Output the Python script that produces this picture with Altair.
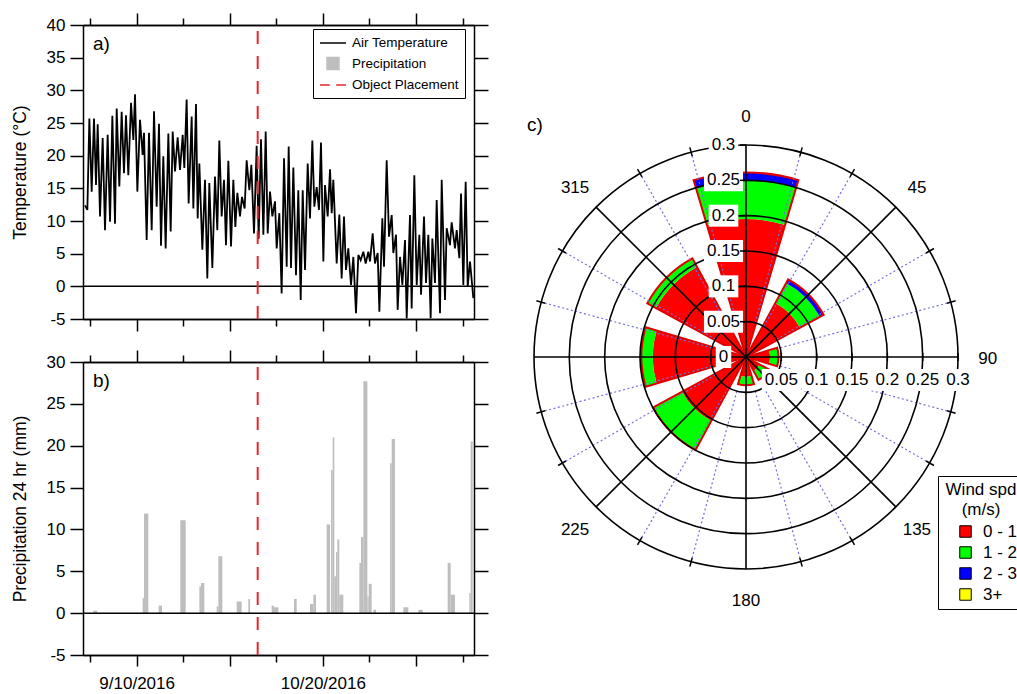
import math

import altair as alt
import pandas as pd

FONT = "Liberation Sans"

# ---------------------------------------------------------------------------
# Air temperature: successive daily highs and lows
# temp_day = days after 2016-08-31 00:00 UTC, temp_c = degrees Celsius
temp_day = [
    -1.10, -0.59, -0.16, 0.34, 0.84, 1.27, 1.63, 2.13, 2.70, 3.20,
    3.77, 4.28, 4.78, 5.35, 5.71, 6.28, 6.78, 7.28, 7.71, 8.21,
    8.79, 9.29, 9.65, 10.15, 10.72, 11.29, 11.58, 12.15, 12.65, 13.23,
    13.73, 14.30, 14.80, 15.23, 15.73, 16.23, 16.81, 17.31, 17.74, 18.24,
    18.81, 19.31, 19.89, 20.24, 20.74, 21.17, 21.82, 22.18, 22.75, 23.11,
    23.47, 24.11, 24.68, 25.18, 25.61, 26.26, 26.83, 27.33, 27.76, 28.26,
    28.77, 29.19, 29.70, 30.27, 30.77, 31.20, 31.63, 32.20, 32.63, 33.20,
    33.63, 34.21, 34.64, 35.21, 35.78, 36.21, 36.71, 37.22, 37.72, 38.15,
    38.65, 39.15, 39.72, 40.08, 40.65, 41.15, 41.66, 42.23, 42.66, 43.16,
    43.66, 44.23, 44.73, 45.24, 45.67, 46.17, 46.74, 47.24, 47.74, 48.17,
    48.67, 49.17, 49.60, 50.11, 50.46, 51.04, 51.54, 51.90, 52.25, 52.97,
    53.54, 54.04, 54.54, 54.97, 55.47, 56.05, 56.55, 57.12, 57.62, 58.12,
    58.70, 59.20, 59.77, 60.13, 60.70, 61.20, 61.78, 62.14, 62.78, 63.14,
    63.71, 64.21, 64.79, 65.14, 65.72, 66.07, 66.58, 67.08, 67.65, 68.01,
    68.72, 69.08, 69.65, 70.16, 70.73, 71.09, 71.73, 72.16, 72.66, 73.16,
    73.52, 74.09, 74.45, 75.17, 75.53, 76.24, 76.60, 77.31, 77.67, 78.39,
    78.75, 79.32, 79.68, 80.18, 80.68, 81.11, 81.61, 82.33,
]
temp_c = [
    12.4, 11.7, 25.7, 14.5, 25.7, 15.5, 24.8, 10.7, 22.7, 8.6,
    23.2, 9.9, 26.1, 9.6, 27.2, 15.3, 26.7, 17.3, 26.2, 17.0,
    28.1, 22.4, 29.4, 14.5, 25.5, 20.1, 23.5, 7.1, 23.5, 8.6,
    26.8, 12.2, 24.9, 6.2, 19.9, 5.8, 23.4, 8.4, 23.7, 17.6,
    22.8, 17.8, 23.2, 18.1, 28.6, 12.7, 26.0, 11.9, 27.9, 10.4,
    18.8, 5.6, 16.3, 1.2, 15.8, 2.8, 16.8, 8.6, 22.3, 10.7,
    16.3, 6.3, 19.2, 6.1, 16.3, 9.1, 14.3, 10.7, 13.7, 11.9,
    19.3, 14.7, 18.6, 8.1, 21.5, 7.3, 22.5, 7.9, 23.7, 8.1,
    14.5, 10.7, 13.0, 5.8, 11.2, -1.1, 19.6, 3.0, 21.4, 2.8,
    18.2, 1.7, 14.7, -2.1, 14.7, 2.5, 18.8, 10.4, 22.3, 12.2,
    15.2, 11.7, 22.0, 3.8, 15.5, 10.7, 17.9, 11.2, 16.3, 3.5,
    11.0, 1.2, 10.7, 2.5, 5.8, 0.2, 4.5, -4.1, 4.8, 4.0,
    5.3, 3.5, 5.3, 3.8, 8.1, 3.5, 5.1, -3.9, 10.4, 3.0,
    19.3, 7.6, 10.9, 5.1, 7.9, -3.6, 4.5, 0.2, 7.1, -4.9,
    10.9, -3.4, 17.0, 0.2, 7.9, -1.3, 10.7, 0.5, 7.9, -4.9,
    7.3, 0.5, 13.2, -4.1, 16.3, -2.1, 8.9, 6.3, 9.8, 5.8,
    8.6, 4.3, 14.2, 0.2, 16.0, -0.1, 3.8, -1.8,
]

# 24 hr precipitation: interval start / end (days after 2016-08-31 00:00 UTC)
# and depth in mm
precip_start = [
    0.70, 11.29, 11.58, 14.73, 19.38, 23.47, 23.83, 27.19, 27.55, 31.49,
    33.99, 39.00, 39.51, 43.80, 47.24, 47.96, 50.82, 51.75, 52.11, 52.47,
    52.83, 53.11, 53.54, 57.84, 58.19, 58.70, 59.56, 59.85, 60.85, 64.43,
    64.79, 67.29, 70.51, 76.81, 77.46, 81.47, 81.76,
]
precip_end = [
    1.55, 11.58, 12.51, 15.45, 20.53, 23.83, 24.54, 27.55, 28.41, 32.56,
    34.35, 39.51, 40.44, 44.38, 47.96, 48.53, 51.54, 52.11, 52.47, 52.83,
    53.11, 53.54, 54.40, 58.19, 58.70, 59.56, 59.85, 60.49, 61.42, 64.79,
    65.50, 68.37, 71.44, 77.46, 78.39, 81.76, 82.19,
]
precip_mm = [
    0.3, 1.8, 11.9, 0.9, 11.1, 3.2, 3.6, 0.8, 6.8, 1.4,
    1.7, 0.9, 0.7, 1.7, 1.1, 2.2, 10.6, 17.1, 21.0, 4.4,
    7.3, 8.8, 2.2, 6.0, 9.1, 27.7, 2.0, 3.5, 0.4, 17.9,
    20.8, 0.7, 0.4, 6.0, 2.2, 2.4, 20.5,
]

# Date the object was placed (month, day of 2016)
placement_month, placement_day = 10, 6

series_names = ["Air Temperature", "Precipitation", "Object Placement"]

# Wind rose: fraction of observations per direction (deg) and speed class
wind_dir = [0, 45, 90, 135, 180, 225, 270, 315]
speed_classes = ["0 - 1", "1 - 2", "2 - 3", "3+"]
speed_colors = ["#ff0000", "#00ff00", "#0000ff", "#ffff00"]
freq_0_1 = [0.195, 0.087, 0.034, 0.022, 0.028, 0.103, 0.132, 0.145]
freq_1_2 = [0.055, 0.032, 0.012, 0.015, 0.012, 0.047, 0.016, 0.014]
freq_2_3 = [0.011, 0.006, 0.0, 0.0, 0.0, 0.0, 0.0, 0.0]
freq_3_up = [0.0, 0.0, 0.0, 0.0, 0.0, 0.0, 0.0, 0.0]

rose_rings = [0.05, 0.1, 0.15, 0.2, 0.25, 0.3]
rose_ring_text = ["0.05", "0.1", "0.15", "0.2", "0.25", "0.3"]
compass_labels = [0, 45, 90, 135, 180, 225, 315]

# ---------------------------------------------------------------------------
# Page layout (pixels)
W, H = 1017, 694
X_LEFT, X_RIGHT = 83, 474
A_TOP, A_BOTTOM = 25, 319
B_TOP, B_BOTTOM = 362, 655
CX, CY, CR = 746, 357, 212          # wind rose centre and outer radius
R_MAX = 0.3
PX = R_MAX / CR                     # rose data units per pixel
SECTOR_HALF = 16.5                  # half width of each direction sector (deg)

BASE = pd.Timestamp("2016-08-31")
ONE = alt.Data(values=[{}])
EMPTY = alt.Data(values=[])


def stamp(day):
    return (BASE + pd.Timedelta(days=day)).strftime("%Y-%m-%dT%H:%M:%SZ")


def utc(m, d, h=0, mi=0):
    return alt.DateTime(year=2016, month=m, date=d, hours=h, minutes=mi, utc=True)


t_domain = [utc(8, 29, 11, 24), utc(11, 21, 11, 17)]
major_ticks = [utc(9, 10), utc(9, 30), utc(10, 20), utc(11, 9)]
minor_ticks = [utc(8, 31), utc(9, 20), utc(10, 10), utc(10, 30), utc(11, 19)]


def time_scale():
    return alt.Scale(type="utc", domain=t_domain, range=[X_LEFT, X_RIGHT])


AX = dict(domainColor="black", domainWidth=1.5, tickColor="black", tickWidth=1.5,
          grid=False, title=None, labelFont=FONT, labelFontSize=17, labelColor="black")


def x_axis(orient, values, size, offset, labels=False):
    kw = dict(AX, orient=orient, values=values, tickSize=size, offset=offset, labels=labels)
    if labels:
        kw.update(format="%-m/%-d/%Y", labelPadding=9, labelOverlap=False,
                  labelFlush=False, labelBound=False,
                  labelExpr="indexof(['9/10/2016', '10/20/2016'], datum.label) >= 0 ? datum.label : ''")
    return alt.Axis(**kw)


def y_axis(orient, values, offset, title=None, labels=True):
    kw = dict(AX, orient=orient, values=values, offset=offset, labels=labels,
              tickSize=13 if orient == "left" else 14)
    if labels:
        kw.update(labelPadding=5, labelExpr="'' + datum.value")
    if title:
        kw.update(title=title, titleFont=FONT, titleFontSize=17.5, titleFontWeight="normal",
                  titlePadding=17, titleColor="black")
    return alt.Axis(**kw)


def time_panel(main, y_scale_fn, y_values, top, bottom, label):
    """Frame axes, zero line, placement line and panel letter for one time panel."""
    layers = [main]
    layers.append(alt.Chart(EMPTY).mark_point().encode(
        x=alt.X("t:T", scale=time_scale(), axis=x_axis("bottom", minor_ticks, 7, bottom - H)),
        y=alt.Y("v:Q", scale=y_scale_fn(), axis=y_axis("right", y_values, X_RIGHT - W, labels=False)),
    ))
    layers.append(alt.Chart(EMPTY).mark_point().encode(
        x=alt.X("t:T", scale=time_scale(), axis=x_axis("top", major_ticks, 12, -top)),
        y=alt.Y("v:Q", scale=y_scale_fn(), axis=None),
    ))
    layers.append(alt.Chart(EMPTY).mark_point().encode(
        x=alt.X("t:T", scale=time_scale(), axis=x_axis("top", minor_ticks, 7, -top)),
        y=alt.Y("v:Q", scale=y_scale_fn(), axis=None),
    ))
    layers.append(alt.Chart(ONE).mark_rule(color="black", strokeWidth=1.5).encode(
        x=alt.XDatum(t_domain[0], type="temporal", scale=time_scale(), axis=None),
        x2=alt.X2Datum(t_domain[1]),
        y=alt.YDatum(0, type="quantitative", scale=y_scale_fn(), axis=None),
    ))
    layers.append(alt.Chart(ONE).mark_rule(color="#e8262d", strokeWidth=2, strokeDash=[13, 12]).encode(
        x=alt.XDatum(utc(placement_month, placement_day), type="temporal", scale=time_scale(), axis=None),
        y=alt.YDatum(y_values[0], type="quantitative", scale=y_scale_fn(), axis=None),
        y2=alt.Y2Datum(y_values[-1]),
    ))
    layers.append(alt.Chart(ONE).mark_text(
        text=label, font=FONT, fontSize=19, align="left", baseline="middle", color="black",
        x=X_LEFT + 10, y=top + 19))
    return layers


# ---------------------------------------------------------------------------
# a) air temperature
temp_df = pd.DataFrame({"t": [stamp(d) for d in temp_day], "temp": temp_c})
temp_values = list(range(-5, 41, 5))


def temp_scale():
    return alt.Scale(domain=[-5, 40], range=[A_BOTTOM, A_TOP], nice=False, zero=False)


temp_line = alt.Chart(temp_df).mark_line(color="black", strokeWidth=1.8).encode(
    x=alt.X("t:T", scale=time_scale(), axis=x_axis("bottom", major_ticks, 12, A_BOTTOM - H)),
    y=alt.Y("temp:Q", scale=temp_scale(),
            axis=y_axis("left", temp_values, -X_LEFT, title="Temperature (°C)")),
)
panel_a = time_panel(temp_line, temp_scale, temp_values, A_TOP, A_BOTTOM, "a)")

# Legend symbols live in a 14 px cell; the line samples reach 26 px wide.
legend_a = alt.Legend(
    title=None, orient="none", legendX=313, legendY=29, direction="vertical",
    padding=6, strokeColor="black", labelFont=FONT, labelFontSize=13.5, labelColor="black",
    labelOffset=11, symbolOffset=6, rowPadding=4.5, symbolSize=196, symbolStrokeWidth=1.5,
    symbolOpacity=1)
series_legend = alt.Chart(EMPTY).mark_point(strokeWidth=1.5, opacity=1).encode(
    shape=alt.Shape("s:N", legend=legend_a, scale=alt.Scale(
        domain=series_names,
        range=["M-1.86,0H1.86", "M-0.85,-0.85H0.85V0.85H-0.85Z",
               "M-1.86,0H-0.46M0.46,0H1.86"])),
    stroke=alt.Stroke("s:N", legend=legend_a, scale=alt.Scale(
        domain=series_names, range=["black", "#bebebe", "#e8262d"])),
    fill=alt.Fill("s:N", legend=legend_a, scale=alt.Scale(
        domain=series_names, range=["transparent", "#bebebe", "transparent"])),
)

# ---------------------------------------------------------------------------
# b) 24 hr precipitation
precip_df = pd.DataFrame({
    "t0": [stamp(d) for d in precip_start],
    "t1": [stamp(d) for d in precip_end],
    "mm": precip_mm,
})
precip_values = list(range(-5, 31, 5))


def precip_scale():
    return alt.Scale(domain=[-5, 30], range=[B_BOTTOM, B_TOP], nice=False, zero=False)


precip_bars = alt.Chart(precip_df).mark_rect(color="#bebebe").encode(
    x=alt.X("t0:T", scale=time_scale(),
            axis=x_axis("bottom", major_ticks, 11, B_BOTTOM - H, labels=True)),
    x2="t1:T",
    y=alt.Y("mm:Q", scale=precip_scale(),
            axis=y_axis("left", precip_values, -X_LEFT, title="Precipitation 24 hr (mm)")),
    y2=alt.Y2Datum(0),
)
panel_b = time_panel(precip_bars, precip_scale, precip_values, B_TOP, B_BOTTOM, "b)")

# ---------------------------------------------------------------------------
# c) wind rose


def theta_scale():
    return alt.Scale(domain=[0, 360], range=[0, 2 * math.pi])


def radius_scale():
    return alt.Scale(type="linear", domain=[0, R_MAX], range=[0, CR], zero=True, nice=False)


def xc_scale():
    return alt.Scale(domain=[-R_MAX, R_MAX], range=[CX - CR, CX + CR], nice=False, zero=False)


def yc_scale():
    return alt.Scale(domain=[-R_MAX, R_MAX], range=[CY + CR, CY - CR], nice=False, zero=False)


def centre():
    return dict(x=alt.XDatum(0, type="quantitative", scale=xc_scale(), axis=None),
                y=alt.YDatum(0, type="quantitative", scale=yc_scale(), axis=None))


def xy(field_x, field_y):
    return dict(x=alt.X(f"{field_x}:Q", scale=xc_scale(), axis=None),
                y=alt.Y(f"{field_y}:Q", scale=yc_scale(), axis=None))


seg_rows, outline_rows = [], []
for i, d in enumerate(wind_dir):
    r = 0.0
    for cls, freq in zip(speed_classes, [freq_0_1, freq_1_2, freq_2_3, freq_3_up]):
        if freq[i] > 0:
            seg_rows.append(dict(a0=d - SECTOR_HALF, a1=d + SECTOR_HALF, r0=r, r1=r + freq[i], cls=cls))
        r += freq[i]
    outline_rows.append(dict(a0=d - SECTOR_HALF, a1=d + SECTOR_HALF, r1=r))
seg_df = pd.DataFrame(seg_rows)
outline_df = pd.DataFrame(outline_rows)

segments = alt.Chart(seg_df).mark_arc().encode(
    theta=alt.Theta("a0:Q", scale=theta_scale(), stack=None),
    theta2="a1:Q",
    radius=alt.Radius("r1:Q", scale=radius_scale(), stack=None),
    radius2="r0:Q",
    fill=alt.Fill("cls:N", scale=alt.Scale(domain=speed_classes, range=speed_colors), legend=None),
    **centre(),
)
outlines = alt.Chart(outline_df).mark_arc(filled=False, color="#e00000", strokeWidth=2).encode(
    theta=alt.Theta("a0:Q", scale=theta_scale(), stack=None),
    theta2="a1:Q",
    radius=alt.Radius("r1:Q", scale=radius_scale(), stack=None),
    **centre(),
)


def spokes(angles, r_in, r_out):
    rad = [math.radians(a) for a in angles]
    return pd.DataFrame({
        "x1": [r_in * math.sin(a) for a in rad], "y1": [r_in * math.cos(a) for a in rad],
        "x2": [r_out * math.sin(a) for a in rad], "y2": [r_out * math.cos(a) for a in rad],
    })


def segment_layer(df, **mark):
    return alt.Chart(df).mark_rule(**mark).encode(
        x2="x2:Q", y2="y2:Q", **xy("x1", "y1"))


minor_angles = [a for a in range(0, 360, 15) if a % 45]
major_angles = list(range(0, 360, 45))
dotted = segment_layer(spokes(minor_angles, rose_rings[0], R_MAX),
                       color="#7070dd", strokeWidth=1.2, strokeDash=[2, 2.5])
solid = segment_layer(spokes(major_angles, 0, R_MAX), color="black", strokeWidth=1.6)
rim_ticks = segment_layer(spokes(minor_angles, R_MAX - 4 * PX, R_MAX + 5 * PX),
                          color="black", strokeWidth=1.5)

rings_df = pd.DataFrame({"r": rose_rings, "a0": 0, "a1": 360})
rings = alt.Chart(rings_df).mark_arc(filled=False, color="black", strokeWidth=1.6).encode(
    theta=alt.Theta("a0:Q", scale=theta_scale(), stack=None),
    theta2="a1:Q",
    radius=alt.Radius("r:Q", scale=radius_scale(), stack=None),
    **centre(),
)


def text_width(s, size=17):
    return size * sum(0.556 if ch.isdigit() else 0.278 for ch in s)


V_SHIFT = 22.5   # radial-axis labels sit left of the north spoke (px)
H_SHIFT = 23     # distance labels sit below the east spoke (px)
v_vals = [0.0] + rose_rings
v_text = ["0"] + rose_ring_text
box_rows = []
for v, s in zip(v_vals, v_text):
    half = text_width(s) / 2 + 3
    box_rows.append(dict(x1=-(V_SHIFT + half) * PX, x2=-(V_SHIFT - half) * PX,
                         y1=v - 11 * PX, y2=v + 11 * PX))
for v, s in zip(rose_rings, rose_ring_text):
    half = text_width(s) / 2 + 3
    box_rows.append(dict(x1=v - half * PX, x2=v + half * PX,
                         y1=-(H_SHIFT + 11) * PX, y2=-(H_SHIFT - 11) * PX))
boxes = alt.Chart(pd.DataFrame(box_rows)).mark_rect(color="white").encode(
    x2="x2:Q", y2="y2:Q", **xy("x1", "y1"))

tick_df = pd.DataFrame(
    [dict(x1=-6 * PX, x2=0.0, y1=v, y2=v) for v in rose_rings]
    + [dict(x1=v, x2=v, y1=-4 * PX, y2=4 * PX) for v in rose_rings])
axis_ticks = segment_layer(tick_df, color="black", strokeWidth=1.5)

v_labels = alt.Chart(pd.DataFrame({"x": 0.0, "y": v_vals, "s": v_text})).mark_text(
    font=FONT, fontSize=17, align="center", baseline="middle", dx=-V_SHIFT, color="black").encode(
    text="s:N", **xy("x", "y"))
h_labels = alt.Chart(pd.DataFrame({"x": rose_rings, "y": 0.0, "s": rose_ring_text})).mark_text(
    font=FONT, fontSize=17, align="center", baseline="middle", dy=H_SHIFT, color="black").encode(
    text="s:N", **xy("x", "y"))

COMPASS_R = 0.342
compass_df = pd.DataFrame({
    "x": [COMPASS_R * math.sin(math.radians(a)) for a in compass_labels],
    "y": [COMPASS_R * math.cos(math.radians(a)) for a in compass_labels],
    "s": [str(a) for a in compass_labels],
})
compass = alt.Chart(compass_df).mark_text(
    font=FONT, fontSize=17, align="center", baseline="middle", dy=2, color="black").encode(
    text="s:N", **xy("x", "y"))

label_c = alt.Chart(ONE).mark_text(text="c)", font=FONT, fontSize=19, align="left",
                                   baseline="middle", color="black", x=527, y=125)

wind_legend = alt.Chart(EMPTY).mark_square(opacity=1).encode(
    fill=alt.Fill("cls:N", scale=alt.Scale(domain=speed_classes, range=speed_colors),
                  legend=alt.Legend(
                      title=["Wind spd", "(m/s)"], orient="none", legendX=938, legendY=476,
                      direction="vertical", padding=6, strokeColor="black",
                      titleFont=FONT, titleFontSize=17, titleFontWeight="normal",
                      titleColor="black", titleAlign="center", titleAnchor="middle",
                      titleLineHeight=20, titlePadding=4,
                      labelFont=FONT, labelFontSize=17, labelColor="black",
                      symbolType="square", symbolSize=132, symbolStrokeColor="black",
                      symbolStrokeWidth=1, symbolOpacity=1, symbolOffset=13,
                      labelOffset=9, rowPadding=3)),
)

panel_c = [segments, outlines, dotted, rings, solid, rim_ticks, boxes, axis_ticks,
           v_labels, h_labels, compass, label_c, wind_legend]

# ---------------------------------------------------------------------------
layers = panel_a + [series_legend] + panel_b + panel_c

chart = alt.layer(*layers).resolve_scale(
    x="independent", y="independent", theta="independent", radius="independent",
    fill="independent", stroke="independent", shape="independent",
).resolve_axis(
    x="independent", y="independent",
).resolve_legend(
    fill="independent", stroke="independent", shape="independent",
).properties(
    width=W, height=H, autosize=alt.AutoSizeParams(type="none"), padding=0,
).configure(
    font=FONT, background="white",
).configure_view(stroke="transparent")

chart.save("out.html", embed_options={"renderer": "svg", "actions": False})
